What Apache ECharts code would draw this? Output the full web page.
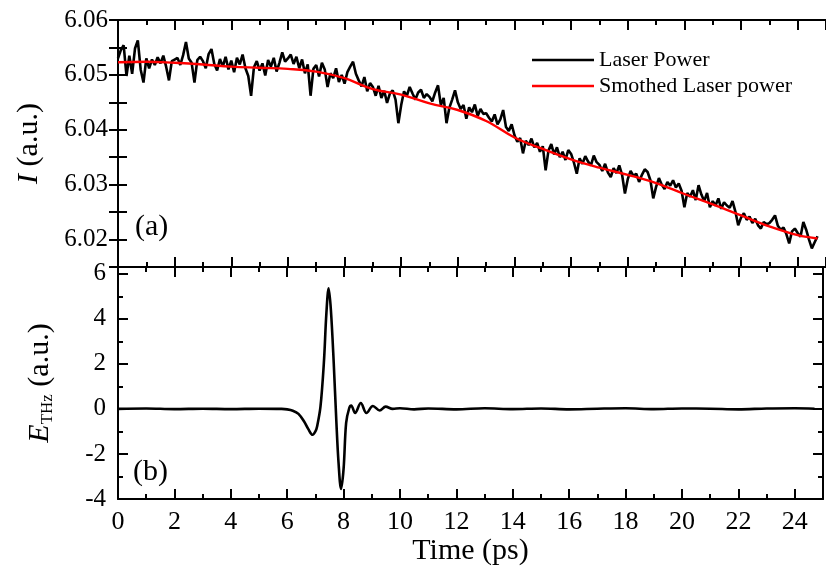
<!DOCTYPE html>
<html>
<head>
<meta charset="utf-8">
<script src="https://cdn.jsdelivr.net/npm/echarts@6/dist/echarts.min.js"></script>
<style>
  html, body { margin: 0; padding: 0; background: #fff; }
  #chart { width: 826px; height: 579px; }
</style>
</head>
<body>
<div id="chart"></div>
<script>
// laser power, sampled every 0.1 ps from 0 to 24.7 ps
const laserStep = 0.1;
const laserPower = [
  6.0530, 6.0545, 6.0554, 6.0498, 6.0535, 6.0502, 6.0548, 6.0563, 6.0510, 6.0486,
  6.0530, 6.0512, 6.0528, 6.0518, 6.0532, 6.0521, 6.0535, 6.0515, 6.0490, 6.0525,
  6.0528, 6.0531, 6.0518, 6.0536, 6.0560, 6.0530, 6.0522, 6.0486, 6.0527, 6.0533,
  6.0525, 6.0512, 6.0538, 6.0547, 6.0520, 6.0508, 6.0529, 6.0515, 6.0533, 6.0510,
  6.0526, 6.0505, 6.0531, 6.0519, 6.0537, 6.0512, 6.0498, 6.0462, 6.0514, 6.0525,
  6.0508, 6.0521, 6.0499, 6.0527, 6.0515, 6.0531, 6.0506, 6.0522, 6.0541, 6.0524,
  6.0530, 6.0537, 6.0520, 6.0533, 6.0512, 6.0528, 6.0503, 6.0519, 6.0462, 6.0511,
  6.0518, 6.0497, 6.0522, 6.0510, 6.0478, 6.0503, 6.0494, 6.0512, 6.0487, 6.0500,
  6.0484, 6.0505, 6.0515, 6.0524, 6.0502, 6.0490, 6.0479, 6.0496, 6.0470, 6.0485,
  6.0478, 6.0462, 6.0480, 6.0458, 6.0471, 6.0449, 6.0466, 6.0472, 6.0455, 6.0412,
  6.0445, 6.0470, 6.0462, 6.0478, 6.0466, 6.0455, 6.0468, 6.0473, 6.0458, 6.0465,
  6.0460, 6.0452, 6.0468, 6.0481, 6.0445, 6.0458, 6.0412, 6.0440, 6.0455, 6.0472,
  6.0450, 6.0438, 6.0445, 6.0420, 6.0441, 6.0432, 6.0446, 6.0425, 6.0438, 6.0429,
  6.0430, 6.0422, 6.0415, 6.0428, 6.0410, 6.0419, 6.0436, 6.0405, 6.0398, 6.0410,
  6.0390, 6.0378, 6.0385, 6.0357, 6.0380, 6.0372, 6.0384, 6.0368, 6.0376, 6.0360,
  6.0370, 6.0326, 6.0362, 6.0374, 6.0355, 6.0368, 6.0350, 6.0360, 6.0345, 6.0363,
  6.0356, 6.0340, 6.0320, 6.0348, 6.0338, 6.0352, 6.0342, 6.0335, 6.0353, 6.0341,
  6.0336, 6.0325, 6.0338, 6.0322, 6.0314, 6.0330, 6.0321, 6.0335, 6.0318, 6.0284,
  6.0310, 6.0325, 6.0316, 6.0320, 6.0305, 6.0318, 6.0328, 6.0323, 6.0308, 6.0275,
  6.0296, 6.0312, 6.0300, 6.0292, 6.0305, 6.0298, 6.0308, 6.0295, 6.0302, 6.0289,
  6.0259, 6.0285, 6.0278, 6.0290, 6.0272, 6.0299, 6.0282, 6.0270, 6.0285, 6.0259,
  6.0270, 6.0262, 6.0275, 6.0256, 6.0268, 6.0262, 6.0258, 6.0270, 6.0251, 6.0226,
  6.0240, 6.0248, 6.0236, 6.0242, 6.0230, 6.0238, 6.0226, 6.0220, 6.0232, 6.0228,
  6.0230, 6.0236, 6.0244, 6.0225, 6.0218, 6.0222, 6.0210, 6.0193, 6.0215, 6.0220,
  6.0212, 6.0205, 6.0232, 6.0218, 6.0200, 6.0184, 6.0195, 6.0206
];

// smoothed laser power
const smoothT = [0, 1, 2, 3, 4, 5, 6, 7, 8, 9, 10, 11, 12, 13, 14, 15, 16, 17, 18, 19, 20, 21, 22, 23, 24, 24.7];
const smoothPower = [6.0523, 6.0524, 6.0522, 6.0519, 6.0515, 6.0513, 6.0511, 6.0506, 6.0494, 6.0474,
  6.0464, 6.0448, 6.0436, 6.0416, 6.0386, 6.0365, 6.0346, 6.0331, 6.0318, 6.0303,
  6.0283, 6.0264, 6.0244, 6.0224, 6.0208, 6.0202];

// THz field
const thzT = [0, 1, 2, 3, 4, 5, 5.8, 6.0, 6.2, 6.4, 6.6, 6.75, 6.9, 7.0, 7.06, 7.18, 7.3, 7.39, 7.47,
  7.55, 7.65, 7.74, 7.82, 7.91, 8.0, 8.09, 8.2, 8.27, 8.41, 8.61, 8.81, 9.04, 9.28, 9.49, 9.74,
  10, 10.5, 11, 12, 13, 14, 15, 16, 17, 18, 19, 20, 21, 22, 23, 24, 24.7];
const thzE = [0, 0.02, -0.01, 0.01, -0.01, 0.01, 0, -0.02, -0.08, -0.22, -0.56, -0.9, -1.15, -1.0, -0.78, 0.1, 2.04, 4.25, 5.35,
  4.38, 2.04, -0.48, -2.38, -3.55, -2.65, -0.62, 0.04, 0.15, -0.18, 0.26, -0.18, 0.13, -0.07, 0.1, 0.0,
  0.03, -0.02, 0.02, -0.02, 0.03, -0.01, 0.02, -0.02, 0.01, 0.03, -0.01, 0.02, 0.01, -0.02, 0.02, 0.03, 0.01];

const FONT = "Liberation Serif";
const chart = echarts.init(document.getElementById("chart"));

const lineStyle = { color: "#000", width: 2 };
function xAxisOf(grid, pos, labels) {
  return {
    type: "value", gridIndex: grid, position: pos, min: 0, max: 25, interval: 2,
    axisLine: { onZero: false, lineStyle: lineStyle },
    axisTick: { inside: true, length: 10, lineStyle: lineStyle },
    minorTick: { show: true, splitNumber: 2, length: 5, lineStyle: { color: "#000", width: 2 } },
    splitLine: { show: false },
    axisLabel: {
      show: labels, color: "#000", fontFamily: FONT, fontSize: 26, margin: 10,
      formatter: (v) => (v % 2 === 0 ? String(v) : "")
    }
  };
}

chart.setOption({
  animation: false,
  grid: [
    { left: 118, top: 20, width: 715, height: 247 },
    { left: 118, top: 267, width: 715, height: 232 }
  ],
  legend: {
    left: 527, top: 44, orient: "vertical", icon: "rect", itemWidth: 62, itemHeight: 2.5, itemGap: 4,
    textStyle: { fontFamily: FONT, fontSize: 22, color: "#000" },
    data: ["Laser Power", "Smothed Laser power"]
  },
  xAxis: [
    xAxisOf(0, "bottom", false),
    xAxisOf(0, "top", false),
    Object.assign(xAxisOf(1, "bottom", true), {
      name: "Time (ps)", nameLocation: "middle", nameGap: 34,
      nameTextStyle: { fontFamily: FONT, fontSize: 30, color: "#000" }
    }),
    xAxisOf(1, "top", false)
  ],
  yAxis: [
    {
      type: "value", gridIndex: 0, position: "left", min: 6.015, max: 6.06, interval: 0.005,
      axisLine: { lineStyle: lineStyle },
      axisTick: { inside: true, length: 9, lineStyle: lineStyle },
      splitLine: { show: false },
      axisLabel: {
        color: "#000", fontFamily: FONT, fontSize: 25, margin: 10,
        formatter: (v) => (Math.round(v * 1000) % 10 === 0 ? v.toFixed(2) : "")
      },
      name: "{i|I} (a.u.)", nameLocation: "middle", nameGap: 74,
      nameTextStyle: {
        fontFamily: FONT, fontSize: 30, color: "#000",
        rich: { i: { fontFamily: FONT, fontSize: 30, fontStyle: "italic", color: "#000" } }
      }
    },
    {
      type: "value", gridIndex: 0, position: "right", min: 6.015, max: 6.06, interval: 0.005,
      axisLine: { lineStyle: lineStyle },
      axisTick: { inside: true, length: 9, lineStyle: lineStyle },
      splitLine: { show: false }, axisLabel: { show: false }
    },
    {
      type: "value", gridIndex: 1, position: "left", min: -4, max: 6.3, interval: 2,
      axisLine: { onZero: false, lineStyle: lineStyle },
      axisTick: { inside: true, length: 10, lineStyle: lineStyle },
      minorTick: { show: true, splitNumber: 2, length: 5, lineStyle: { color: "#000", width: 2 } },
      splitLine: { show: false },
      axisLabel: {
        color: "#000", fontFamily: FONT, fontSize: 25, margin: 12,
        formatter: (v) => (Number.isInteger(v) ? String(v) : "")
      },
      name: "{i|E}{s|THz} (a.u.)", nameLocation: "middle", nameGap: 62,
      nameTextStyle: {
        fontFamily: FONT, fontSize: 30, color: "#000",
        rich: {
          i: { fontFamily: FONT, fontSize: 30, fontStyle: "italic", color: "#000" },
          s: { fontFamily: FONT, fontSize: 17, color: "#000", verticalAlign: "bottom", padding: [14, 0, 0, 0] }
        }
      }
    },
    {
      type: "value", gridIndex: 1, position: "right", min: -4, max: 6.3, interval: 2,
      axisLine: { onZero: false, lineStyle: lineStyle },
      axisTick: { inside: true, length: 10, lineStyle: lineStyle },
      minorTick: { show: true, splitNumber: 2, length: 5, lineStyle: { color: "#000", width: 2 } },
      splitLine: { show: false }, axisLabel: { show: false }
    }
  ],
  graphic: [
    { type: "text", left: 135, top: 212, style: { text: "(a)", font: "30px 'Liberation Serif'", fill: "#000" } },
    { type: "text", left: 133, top: 457, style: { text: "(b)", font: "30px 'Liberation Serif'", fill: "#000" } }
  ],
  series: [
    {
      name: "Laser Power", type: "line", xAxisIndex: 0, yAxisIndex: 0, symbol: "none",
      lineStyle: { color: "#000", width: 2.6 }, itemStyle: { color: "#000" },
      data: laserPower.map((v, i) => [Number((i * laserStep).toFixed(1)), v])
    },
    {
      name: "Smothed Laser power", type: "line", xAxisIndex: 0, yAxisIndex: 0, symbol: "none", smooth: 0.4,
      lineStyle: { color: "#ff0000", width: 2.4 }, itemStyle: { color: "#ff0000" },
      data: smoothT.map((t, i) => [t, smoothPower[i]])
    },
    {
      name: "THz", type: "line", xAxisIndex: 2, yAxisIndex: 2, symbol: "none", smooth: 0.35,
      lineStyle: { color: "#000", width: 2.6 },
      data: thzT.map((t, i) => [t, thzE[i]])
    }
  ]
});
</script>
</body>
</html>
